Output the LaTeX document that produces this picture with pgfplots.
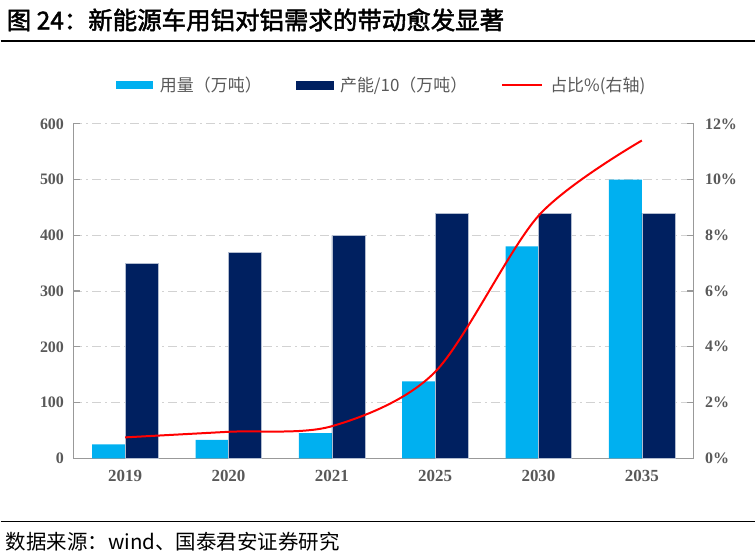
\documentclass[border=0pt]{standalone}
\usepackage{fontspec}
\setmainfont{Liberation Serif}
\newfontfamily\cjk{Noto Sans CJK SC}
\newfontfamily\cjkb{Noto Sans CJK SC}[FakeBold=2]
\usepackage{pgfplots}
\pgfplotsset{compat=1.18}
\definecolor{lightbar}{HTML}{00B0F0}
\definecolor{darkbar}{HTML}{002060}
\definecolor{ticktext}{HTML}{595959}

\begin{document}
\begin{tikzpicture}[x=1pt,y=1pt]
% page frame, 1px = 1pt
\path (0,0) rectangle (756,560);
% title and rules
\node[anchor=west, inner sep=0] at (6,540) {\cjkb\fontsize{24.5}{24.5}\selectfont 图 24：新能源车用铝对铝需求的带动愈发显著};
\draw[black, line width=1.2pt] (0,519) -- (756,519);
\draw[black, line width=1.2pt] (0,38) -- (756,38);
\node[anchor=west, inner sep=0] at (5,17) {\cjk\fontsize{20.5}{20.5}\selectfont 数据来源：wind、国泰君安证券研究};

\begin{axis}[
    at={(73pt,101pt)}, anchor=south west,
    width=621pt, height=335pt, scale only axis,
    xmin=-0.5, xmax=5.5,
    ymin=0, ymax=600,
    ytick={0,100,...,600},
    xtick={0,...,5},
    xticklabels={2019,2020,2021,2025,2030,2035},
    axis x line*=bottom, axis y line*=left,
    axis line style={draw=gray!80, line width=1.2pt},
    x axis line style={-}, y axis line style={-},
    ymajorgrids,
    grid style={gray!35, line width=1pt, dash pattern=on 9pt off 4pt on 2pt off 4pt},
    major tick length=7pt,
    ytick style={draw=gray!80, line width=1.2pt},
    xtick style={draw=none},
    /pgf/number format/assume math mode=true,
    tick label style={font=\fontsize{16}{16}\selectfont\bfseries, text=ticktext},
    yticklabel style={xshift=-6pt},
    xticklabel style={font=\fontsize{17}{17}\selectfont\bfseries, yshift=-8pt},
    legend style={at={(0.497,1.116)}, anchor=center, draw=none, fill=none,
        font=\cjk\fontsize{17}{17}\selectfont, text=ticktext,
        /tikz/every odd column/.append style={column sep=5pt},
        /tikz/every even column/.append style={column sep=32pt}},
    legend columns=3,
]
\addplot[ybar, bar width=33pt, bar shift=-16.5pt, fill=lightbar, draw=none,
    area legend, legend image code/.code={\fill[lightbar] (0pt,-4pt) rectangle (37pt,4pt);}]
    coordinates {(0,25) (1,33) (2,45) (3,138) (4,380) (5,500)};
\addlegendentry{用量（万吨）}
\addplot[ybar, bar width=33pt, bar shift=16.5pt, fill=darkbar, draw=white!70!darkbar, line width=0.4pt,
    area legend, legend image code/.code={\fill[darkbar] (0pt,-4pt) rectangle (37pt,4pt);}]
    coordinates {(0,350) (1,370) (2,400) (3,440) (4,440) (5,440)};
\addlegendentry{产能/10（万吨）}
\addlegendimage{red, line width=2pt, legend image code/.code={\draw[red, line width=2pt] (0pt,0pt) -- (40pt,0pt);}}
\addlegendentry{占比\%(右轴)}
\end{axis}

\begin{axis}[
    at={(73pt,101pt)}, anchor=south west,
    width=621pt, height=335pt, scale only axis,
    xmin=-0.5, xmax=5.5,
    ymin=0, ymax=12,
    ytick={0,2,...,12},
    axis x line=none, axis y line*=right,
    axis line style={draw=gray!80, line width=1.2pt},
    y axis line style={-},
    major tick length=7pt,
    ytick style={draw=gray!80, line width=1.2pt},
    /pgf/number format/assume math mode=true,
    yticklabel={\pgfmathprintnumber{\tick}\%},
    tick label style={font=\fontsize{16}{16}\selectfont\bfseries, text=ticktext},
    yticklabel style={xshift=8pt},
]
\addplot[red, line width=2pt, smooth, mark=none]
    coordinates {(0,0.75) (1,0.95) (2,1.15) (3,3.1) (4,8.7) (5,11.4)};
\end{axis}
\end{tikzpicture}
\end{document}
